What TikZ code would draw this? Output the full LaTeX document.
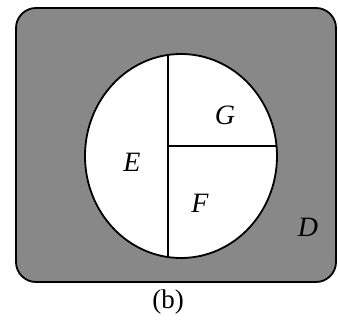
\documentclass[tikz,border=0pt]{standalone}
\usepackage{fontspec}
\setmainfont{Liberation Serif}
\usepackage{tikz}
\usetikzlibrary{positioning, calc}
\definecolor{regiongray}{RGB}{136,136,136}

\begin{document}
\begin{tikzpicture}[x=1pt, y=1pt,
            region/.style={font=\fontsize{28}{32}\selectfont\itshape},
            border/.style={line width=1.8pt, draw=black}]
          \useasboundingbox (0,0) rectangle (338,327);
          % shaded region D
          \draw[border, fill=regiongray, rounded corners=20pt] (16,45) rectangle (336,319);
          % circle split into E, F, G
          \coordinate (c) at (181,171);
          \draw[border, fill=white] (c) ellipse [x radius=96, y radius=102];
          \coordinate (top) at (168,272);
          \coordinate (bot) at (168,70);
          \coordinate (mid) at (168,181);
          \coordinate (rgt) at (276.5,181);
          \draw[border] (top) -- (bot);
          \draw[border] (mid) -- (rgt);
          \node[region] (E) at (132,165) {E};
          \node[region] (G) at (225,212) {G};
          \node[region] (F) at (200,124) {F};
          \node[region] (D) at (308,100) {D};
          \node[font=\fontsize{27}{31}\selectfont] (b) at (168,25) {(b)};
        \end{tikzpicture}
\end{document}
